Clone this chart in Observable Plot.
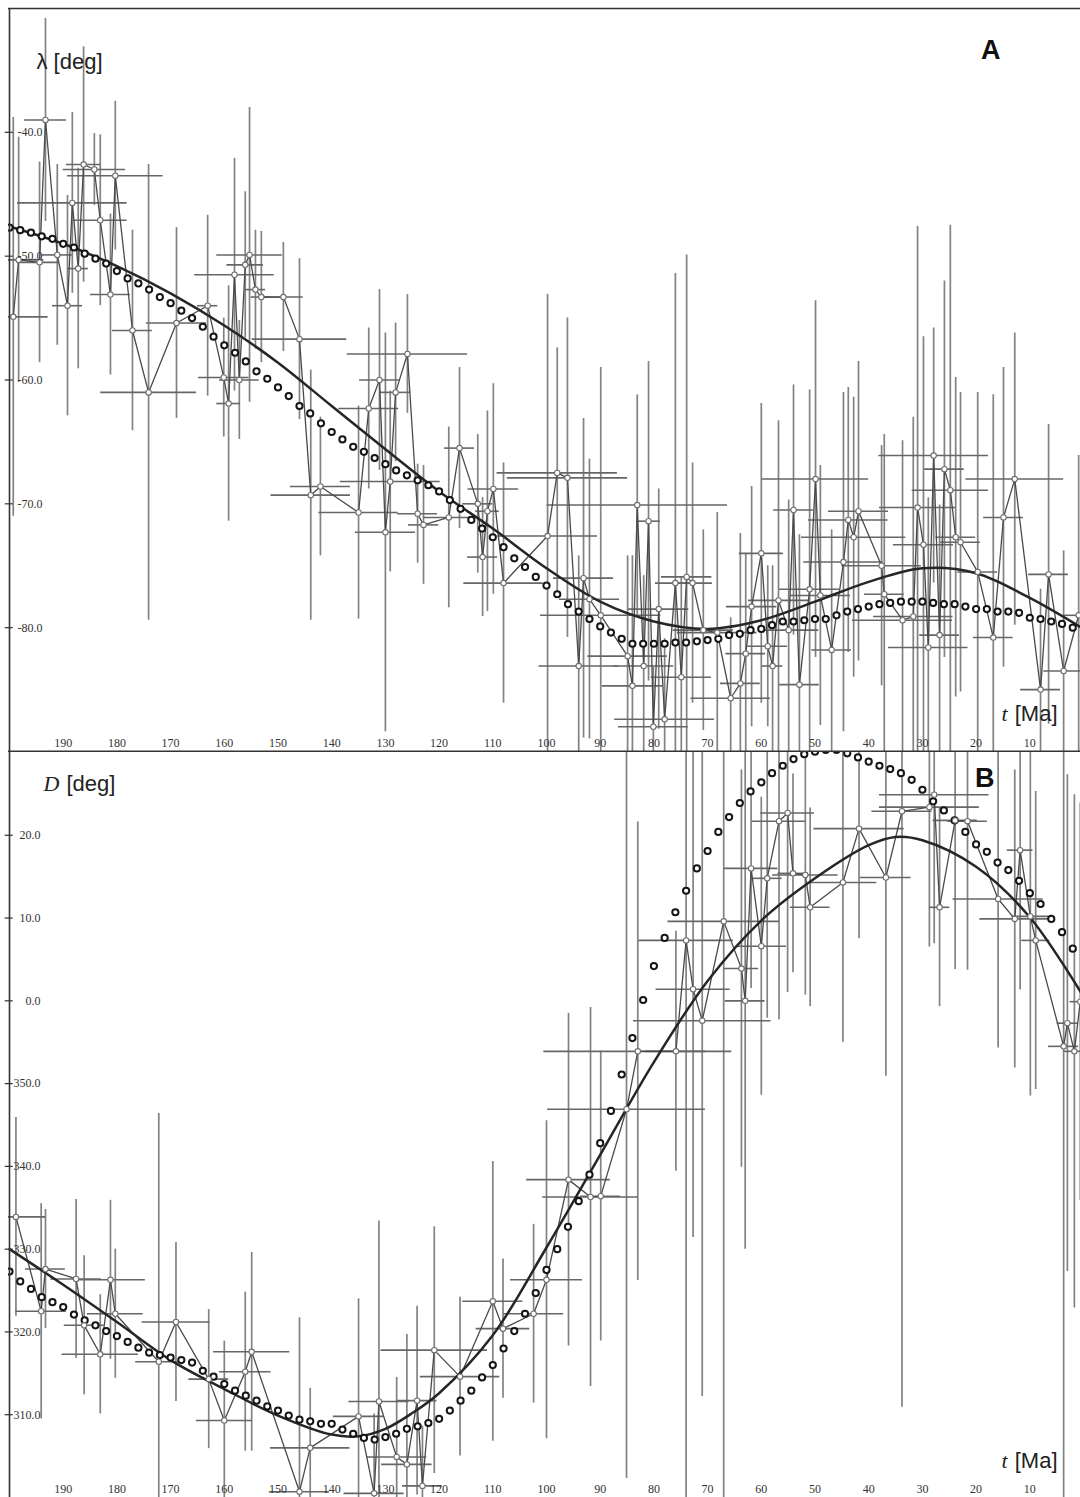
<!DOCTYPE html>
<html><head><meta charset="utf-8">
<script src="https://cdn.jsdelivr.net/npm/d3@7"></script>
<script src="https://cdn.jsdelivr.net/npm/@observablehq/plot@0.6"></script>
<style>
html,body{margin:0;padding:0;background:#fff;}
#chart{width:1080px;height:1497px;overflow:hidden;line-height:0;}
#chart svg{display:block;overflow:hidden;}
</style></head><body><div id="chart"></div>
<script>
// ---------- tick labels ----------
const ageTicks = [190,180,170,160,150,140,130,120,110,100,90,80,70,60,50,40,30,20,10];
const latTicks = [-40,-50,-60,-70,-80];
const declTicks = [20,10,0,350,340,330,320,310];

// ---------- panel A : lambda [deg] ----------
const latAge = [199.3,198.3,194.4,193.3,191.1,189.2,188.3,187.2,186.2,184.2,183.1,181.2,180.3,177.1,174.1,168.9,163.1,160.1,159.2,158.1,157.2,156.1,155.3,154.2,153.1,149.0,146.0,143.9,142.1,135.0,133.1,131.1,130.0,129.1,128.1,125.9,124.0,122.9,118.2,116.2,112.8,111.9,111.0,109.9,108.0,99.8,98.0,96.1,94.0,93.1,92.0,89.9,84.9,84.0,83.1,81.9,81.0,80.1,79.1,78.0,76.0,74.9,73.9,72.8,70.8,68.2,65.7,63.9,62.9,61.8,60.0,58.8,57.9,56.8,54.9,54.0,52.9,51.0,49.9,49.0,46.9,44.7,43.8,42.8,41.9,37.6,37.1,33.7,31.7,30.9,29.8,28.9,27.9,26.8,25.9,24.8,23.8,22.9,19.7,16.8,14.9,12.8,8.0,6.5,3.7,0.9];
const latVal = [-54.9,-50.3,-50.5,-39.0,-49.9,-54.0,-45.7,-51.0,-42.6,-43.0,-47.1,-53.1,-43.5,-56.0,-61.0,-55.4,-54.0,-59.8,-61.9,-51.5,-60.0,-50.7,-49.9,-52.7,-53.3,-53.3,-56.7,-69.3,-68.6,-70.7,-62.3,-60.0,-72.3,-68.2,-61.0,-57.9,-70.8,-71.7,-71.1,-65.5,-70.0,-74.3,-70.6,-68.8,-76.4,-72.6,-67.5,-67.9,-83.1,-76.0,-77.7,-79.0,-82.3,-84.7,-70.1,-83.1,-71.4,-88.0,-78.5,-87.4,-76.4,-84.0,-75.9,-76.4,-80.2,-80.4,-85.7,-84.5,-82.1,-78.3,-74.0,-81.5,-83.1,-77.8,-80.2,-70.5,-84.6,-76.9,-68.0,-77.4,-81.8,-74.7,-71.3,-72.7,-70.6,-75.0,-77.3,-79.4,-79.1,-70.3,-73.3,-81.6,-66.1,-80.6,-67.2,-68.9,-72.7,-73.1,-75.5,-80.8,-71.1,-68.0,-85.0,-75.7,-83.5,-79.0];
const latAgeErr = [6.5,4.7,3.7,3.9,2.8,2.8,10.2,1.9,3.2,5.8,5.0,3.7,8.9,3.7,8.9,5.6,1.9,4.7,2.2,7.4,3.7,3.4,6.1,1.9,1.9,3.7,8.8,7.4,5.6,7.4,5.6,3.7,5.6,9.3,2.8,11.2,3.7,2.8,4.7,2.8,2.8,2.8,2.2,4.7,7.4,9.3,11.2,11.2,7.4,5.6,5.6,11.2,7.4,5.6,16.8,5.6,2.2,6.5,5.6,9.3,3.7,5.6,4.7,3.7,5.6,7.4,7.4,3.7,3.7,4.7,4.1,3.7,1.9,5.6,5.6,3.7,3.7,5.6,9.9,5.6,3.7,7.4,7.4,9.7,5.6,7.4,3.7,9.3,7.4,7.1,5.6,7.4,10.2,3.7,3.7,7.1,3.7,3.7,3.7,3.7,3.7,9.1,3.7,3.7,3.7,2.8];
const latValErr = [16.1,9.9,8.1,8.2,7.3,8.9,7.3,8.1,9.5,2.9,6.9,6.5,6.0,8.1,18.4,7.7,7.3,4.8,9.5,9.4,4.8,5.9,11.9,4.8,5.3,4.4,6.5,10.1,5.6,8.6,6.5,7.3,16.1,7.3,5.6,4.8,4.0,4.8,7.3,6.5,5.6,4.8,8.1,8.5,9.7,19.5,10.1,12.9,8.9,12.9,11.3,20.0,8.1,10.5,8.9,7.3,12.9,4.8,9.7,6.5,25.0,8.1,26.0,9.7,8.1,9.7,6.5,12.1,8.1,9.7,12.1,6.5,8.1,14.5,10.5,10.1,12.1,16.1,14.4,10.5,9.7,13.7,10.7,11.3,12.1,9.7,12.9,14.5,16.1,22.7,16.8,12.1,10.3,10.5,15.2,21.4,12.9,12.1,14.5,19.6,12.1,11.8,8.1,12.1,9.7,12.9];

// smooth fitted path (solid) and model (dotted circles)
const latFitAge = [200,190,180,170,160,150,140,130,120,110,100,90,80,70,60,50,40,30,20,10,0];
const latFitVal = [-47.6,-49.0,-50.8,-53.0,-55.6,-58.6,-62.1,-65.6,-69.0,-72.0,-75.2,-77.9,-79.5,-80.1,-79.4,-77.9,-76.3,-75.2,-75.6,-77.6,-80.1];
const modelAge = [200,198,196,194,192,190,188,186,184,182,180,178,176,174,172,170,168,166,164,162,160,158,156,154,152,150,148,146,144,142,140,138,136,134,132,130,128,126,124,122,120,118,116,114,112,110,108,106,104,102,100,98,96,94,92,90,88,86,84,82,80,78,76,74,72,70,68,66,64,62,60,58,56,54,52,50,48,46,44,42,40,38,36,34,32,30,28,26,24,22,20,18,16,14,12,10,8,6,4,2];
const latModel = [-47.7,-47.9,-48.1,-48.4,-48.6,-49.0,-49.3,-49.8,-50.2,-50.6,-51.2,-51.8,-52.2,-52.7,-53.3,-53.8,-54.4,-55.0,-55.7,-56.5,-57.2,-57.8,-58.5,-59.3,-59.9,-60.6,-61.3,-62.1,-62.7,-63.5,-64.2,-64.8,-65.4,-65.8,-66.3,-66.8,-67.3,-67.7,-68.1,-68.5,-69.0,-69.7,-70.4,-71.3,-72.0,-72.7,-73.5,-74.4,-75.1,-75.9,-76.6,-77.3,-78.1,-78.7,-79.3,-79.9,-80.4,-80.9,-81.3,-81.3,-81.3,-81.3,-81.2,-81.2,-81.1,-81.0,-80.9,-80.6,-80.5,-80.2,-80.1,-79.8,-79.5,-79.5,-79.4,-79.3,-79.3,-79.0,-78.7,-78.5,-78.3,-78.1,-78.0,-77.9,-77.9,-77.9,-78.0,-78.1,-78.1,-78.3,-78.5,-78.5,-78.7,-78.7,-78.8,-79.2,-79.3,-79.5,-79.7,-80.0];

// ---------- panel B : D [deg] (signed: 350 -> -10) ----------
const decAge = [198.8,194.1,193.3,187.6,186.1,183.1,181.2,180.3,172.2,169.0,162.9,160.0,156.1,154.9,146.0,144.0,135.0,132.1,131.2,127.9,126.0,124.1,123.1,120.9,116.1,110.0,108.1,102.4,100.0,95.9,91.8,89.9,85.1,83.0,75.9,74.0,72.7,71.0,67.0,63.7,63.0,61.9,60.0,58.9,56.7,55.1,54.1,51.8,50.9,44.8,41.8,36.8,33.8,28.7,27.8,26.8,23.9,21.6,15.9,12.8,11.8,9.9,8.9,3.7,3.0,1.7,0.6];
const decVal = [-26.1,-37.5,-32.4,-33.6,-39.2,-42.7,-33.7,-37.8,-43.6,-38.8,-45.7,-50.7,-44.8,-42.4,-59.3,-54.0,-50.2,-59.5,-48.4,-55.1,-56.0,-48.3,-58.6,-42.2,-45.4,-36.3,-39.6,-37.8,-33.7,-21.6,-23.7,-23.6,-13.1,-6.1,-6.1,7.3,1.4,-2.4,9.6,3.9,0.0,16.0,6.6,14.8,21.7,22.7,15.4,15.2,11.3,14.3,20.8,14.9,22.9,23.4,24.9,11.3,21.8,21.7,12.3,9.9,18.2,10.2,7.3,-5.5,-2.7,-6.1,-0.1];
const decAgeErr = [5.6,4.7,3.7,4.7,3.7,7.1,6.5,5.2,4.3,6.3,3.7,5.2,4.8,7.1,5.6,7.4,4.7,5.6,5.6,5.6,4.7,3.7,3.7,9.9,7.4,5.6,5.0,5.6,6.7,7.8,8.9,3.7,14.7,17.5,5.6,8.8,6.9,12.8,10.4,3.2,3.7,5.0,4.7,2.8,5.0,5.0,2.8,6.1,3.7,6.3,8.4,4.7,5.6,9.3,10.2,1.9,4.1,3.7,8.4,6.5,2.4,3.4,2.6,2.8,1.9,1.9,1.9];
const decValErr = [12.0,13.0,7.2,9.6,8.4,7.2,9.6,7.8,30.0,9.6,8.4,9.6,9.6,12.0,21.0,7.2,14.2,9.6,21.8,9.6,15.7,11.4,7.2,14.9,9.6,16.9,8.4,10.8,19.2,20.1,22.9,17.5,44.6,27.7,14.5,72,30,45.4,72,24,30,14.5,18,16.9,24,21.7,12,14.5,12,19.3,13.3,24,72,16.9,18,12,18,18,18,18,16.9,21.7,18,72,30,31,24];

const decFitAge = [200,190,180,170,160,150,140,135,130,125,120,110,100,90,80,70,60,50,40,35,30,20,10,0];
const decFitVal = [-30.0,-34.3,-38.8,-43.4,-46.9,-50.1,-52.4,-52.6,-51.7,-49.8,-47.4,-40.4,-29.8,-18.6,-7.4,2.4,9.7,14.8,18.8,19.8,19.4,16.2,10.1,0.5];
const decModel = [-32.7,-33.9,-34.8,-35.8,-36.4,-37.0,-37.9,-38.6,-39.2,-39.9,-40.5,-41.2,-41.9,-42.5,-42.8,-43.1,-43.4,-43.7,-44.7,-45.4,-46.3,-47.1,-47.7,-48.3,-49.0,-49.5,-50.1,-50.6,-50.8,-51.1,-51.1,-51.8,-52.3,-52.8,-53.0,-52.7,-52.3,-51.7,-51.4,-51.0,-50.5,-49.5,-48.3,-47.1,-45.5,-44.0,-42.0,-39.9,-37.8,-35.3,-32.5,-30.0,-27.3,-24.2,-21.0,-17.2,-13.3,-8.9,-4.5,0.1,4.2,7.6,10.7,13.3,16.0,18.1,20.4,22.2,23.9,25.3,26.4,27.5,28.4,29.2,29.8,30.1,30.3,30.3,29.9,29.4,28.9,28.4,28.0,27.5,26.7,25.5,24.1,23.0,21.8,20.4,18.9,18.0,16.7,15.8,14.5,13.0,11.7,9.9,8.3,6.3];

// ---------- build tables ----------
const ptsA = latAge.map((t,i)=>({t, v: latVal[i], dt: latAgeErr[i], dv: latValErr[i]}));
const fitA = latFitAge.map((t,i)=>({t, v: latFitVal[i]}));
const modA = modelAge.map((t,i)=>({t, v: latModel[i]}));
const ptsB = decAge.map((t,i)=>({t, v: decVal[i], dt: decAgeErr[i], dv: decValErr[i]}));
const fitB = decFitAge.map((t,i)=>({t, v: decFitVal[i]}));
const modB = modelAge.map((t,i)=>({t, v: decModel[i]}));

const signed = d => d > 180 ? d - 360 : d;
const SERIF = "'Liberation Serif', 'DejaVu Serif', serif";
const SANS = "'Liberation Sans', Arial, sans-serif";
const X = {domain: [200, 0], range: [9, 1083]};

function dataMarks(pts, fit, mod) {
  return [
    Plot.ruleX(pts, {x: "t", y1: d => d.v - d.dv, y2: d => d.v + d.dv, stroke: "#828282", strokeWidth: 1.7, clip: true}),
    Plot.ruleY(pts, {y: "v", x1: d => d.t + d.dt, x2: d => d.t - d.dt, stroke: "#666", strokeWidth: 1.6, clip: true}),
    Plot.line(pts, {x: "t", y: "v", stroke: "#4a4a4a", strokeWidth: 1.3, clip: true}),
    Plot.line(fit, {x: "t", y: "v", curve: "catmull-rom", stroke: "#262626", strokeWidth: 2.5, clip: true}),
    Plot.dot(mod, {x: "t", y: "v", r: 3.1, stroke: "#151515", strokeWidth: 2, fill: "white", clip: true}),
    Plot.dot(pts, {x: "t", y: "v", r: 2.7, fill: "white", stroke: "#6f6f6f", strokeWidth: 1.1, clip: true})
  ];
}

const plotA = Plot.plot({
  width: 1080, height: 752,
  marginLeft: 8, marginTop: 8, marginRight: 0, marginBottom: 1,
  x: {...X, axis: null},
  y: {domain: [-90, -30], range: [751, 8], axis: null},
  marks: [
    ...dataMarks(ptsA, fitA, modA),
    Plot.ruleY([-30], {stroke: "#333", strokeWidth: 1.6}),
    Plot.ruleY([-90], {stroke: "#333", strokeWidth: 2}),
    Plot.ruleX([200], {stroke: "#333", strokeWidth: 1.6}),
    Plot.ruleY(latTicks, {y: d => d, x1: 200.8, x2: 199.3, stroke: "#333", strokeWidth: 1.2}),
    Plot.text(latTicks, {x: 200, y: d => d, dx: 33, textAnchor: "end", text: d => d.toFixed(1), fontSize: 12, fontFamily: SERIF, fill: "#333"}),
    Plot.text(ageTicks, {x: d => d, y: -90, dy: -8, text: d => String(d), fontSize: 12, fontFamily: SERIF, fill: "#333"}),
    Plot.text(["λ [deg]"], {frameAnchor: "top-left", dx: 28, dy: 53, lineAnchor: "middle", textAnchor: "start", fontSize: 22, fontFamily: SANS, fill: "#222"}),
    Plot.text(["A"], {frameAnchor: "top-right", dx: -80, dy: 42, lineAnchor: "middle", fontSize: 27, fontWeight: "bold", fontFamily: SANS, fill: "#111"}),
    Plot.text(["t"], {frameAnchor: "bottom-right", dx: -73, dy: -38, lineAnchor: "middle", textAnchor: "end", fontSize: 22, fontStyle: "italic", fontFamily: SERIF, fill: "#222"}),
    Plot.text(["[Ma]"], {frameAnchor: "bottom-right", dx: -23, dy: -38, lineAnchor: "middle", textAnchor: "end", fontSize: 22, fontFamily: SANS, fill: "#222"})
  ]
});

const plotB = Plot.plot({
  width: 1080, height: 745,
  marginLeft: 8, marginTop: 0, marginRight: 0, marginBottom: 0,
  x: {...X, axis: null},
  y: {domain: [-60, 30], range: [745, 0], axis: null},
  marks: [
    ...dataMarks(ptsB, fitB, modB),
    Plot.ruleX([200], {stroke: "#333", strokeWidth: 1.6}),
    Plot.ruleY(declTicks, {y: d => signed(d), x1: 200.8, x2: 199.3, stroke: "#333", strokeWidth: 1.2}),
    Plot.text(declTicks, {x: 200, y: d => signed(d), dx: 31, textAnchor: "end", text: d => d.toFixed(1), fontSize: 12, fontFamily: SERIF, fill: "#333"}),
    Plot.text(ageTicks, {x: d => d, y: -60, dy: -8, text: d => String(d), fontSize: 12, fontFamily: SERIF, fill: "#333"}),
    Plot.text(["D"], {frameAnchor: "top-left", dx: 35, dy: 31, lineAnchor: "middle", textAnchor: "start", fontSize: 22, fontStyle: "italic", fontFamily: SERIF, fill: "#222"}),
    Plot.text(["[deg]"], {frameAnchor: "top-left", dx: 58, dy: 31, lineAnchor: "middle", textAnchor: "start", fontSize: 22, fontFamily: SANS, fill: "#222"}),
    Plot.text(["B"], {frameAnchor: "top-right", dx: -86, dy: 26, lineAnchor: "middle", fontSize: 27, fontWeight: "bold", fontFamily: SANS, fill: "#111"}),
    Plot.text(["t"], {frameAnchor: "bottom-right", dx: -73, dy: -37, lineAnchor: "middle", textAnchor: "end", fontSize: 22, fontStyle: "italic", fontFamily: SERIF, fill: "#222"}),
    Plot.text(["[Ma]"], {frameAnchor: "bottom-right", dx: -23, dy: -37, lineAnchor: "middle", textAnchor: "end", fontSize: 22, fontFamily: SANS, fill: "#222"})
  ]
});

const root = document.getElementById("chart");
root.appendChild(plotA);
root.appendChild(plotB);
</script>
</body></html>
